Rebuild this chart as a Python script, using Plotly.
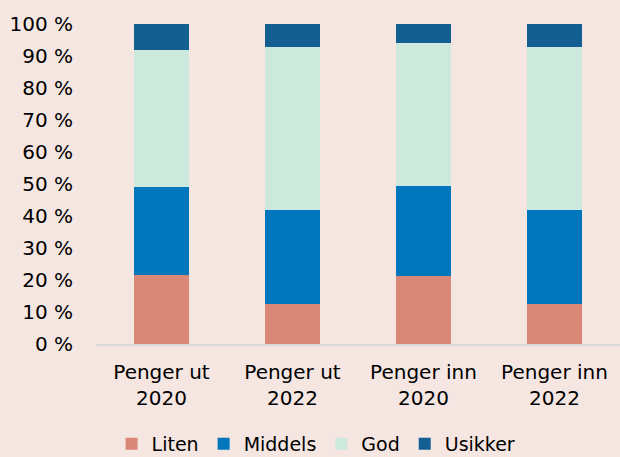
import plotly.graph_objects as go

categories = ["Penger ut<br>2020", "Penger ut<br>2022", "Penger inn<br>2020", "Penger inn<br>2022"]
series_names = ["Liten", "Middels", "God", "Usikker"]
liten = [21.5, 12.4, 21.3, 12.4]
middels = [27.5, 29.5, 28.2, 29.5]
god = [42.9, 51.0, 44.5, 51.0]
usikker = [8.1, 7.1, 6.0, 7.1]
tick_vals = [0, 10, 20, 30, 40, 50, 60, 70, 80, 90, 100]
tick_text = [f"{v} %" for v in tick_vals]

colors = ["#D98877", "#0077BD", "#CDE8DC", "#135F91"]
values = [liten, middels, god, usikker]

fig = go.Figure()
for name, vals, col in zip(series_names, values, colors):
    fig.add_trace(go.Bar(
        x=list(range(len(categories))), y=vals, name=name,
        marker=dict(color=col, line=dict(width=0)),
        width=0.42,
    ))

bg = "#F5E6E2"
fig.update_layout(
    barmode="stack",
    width=620, height=457,
    paper_bgcolor=bg, plot_bgcolor=bg,
    margin=dict(l=96, r=0, t=24, b=113, autoexpand=False),
    font=dict(family="DejaVu Sans, sans-serif", size=20, color="#000000"),
    showlegend=True,
    legend=dict(orientation="h", y=-0.312, yanchor="middle",
                x=0.42, xanchor="center",
                font=dict(size=19), traceorder="normal",
                itemwidth=30, entrywidthmode="pixels"),
    bargap=0,
)
fig.update_xaxes(
    tickmode="array", tickvals=list(range(len(categories))), ticktext=categories,
    range=[-0.5, 3.5], showgrid=False, zeroline=False, automargin=False,
    showline=True, linecolor="#D9D9D9", linewidth=2,
    ticks="outside", ticklen=9, tickcolor="rgba(0,0,0,0)", tickfont=dict(size=20),
)
fig.update_yaxes(
    range=[0, 100], tickmode="array", tickvals=tick_vals, ticktext=tick_text,
    showgrid=False, zeroline=False, showline=False, automargin=False,
    ticks="outside", ticklen=18, tickcolor="rgba(0,0,0,0)",
    tickfont=dict(size=20),
)
fig.write_html("out.html", config={"displayModeBar": False},
               post_script="document.body.style.margin='0';")
